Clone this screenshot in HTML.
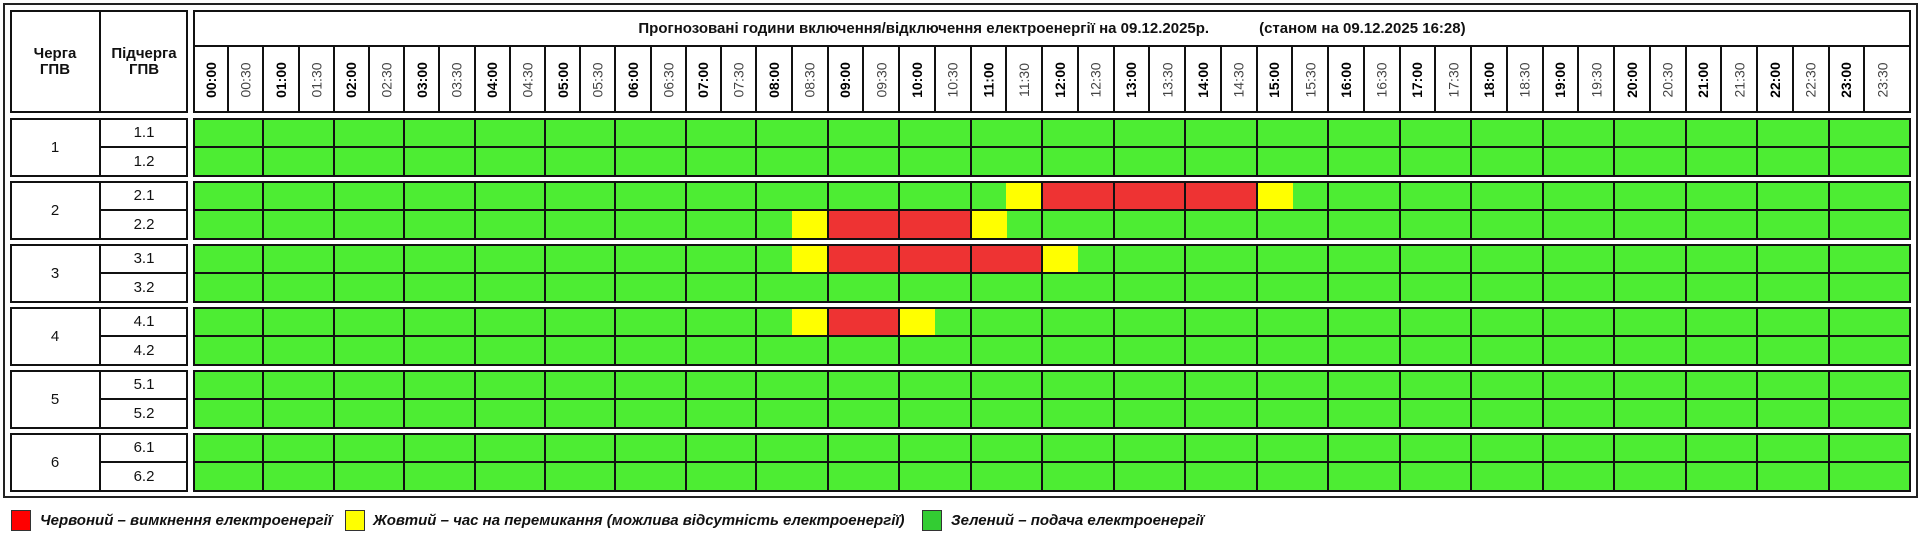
<!DOCTYPE html>
<html><head><meta charset="utf-8">
<style>
body{margin:0;width:1920px;height:542px;background:#fff;position:relative;overflow:hidden;font-family:"Liberation Sans",sans-serif}
.a{position:absolute;box-sizing:border-box}
.b{border:2px solid #111}
.lab{position:absolute;top:47px;height:65px;display:flex;align-items:center;justify-content:center}
.lab span{transform:rotate(-90deg);font-size:14px;white-space:nowrap}
.h span{font-weight:bold;color:#000}
.m span{color:#444}
.t{position:absolute;display:flex;align-items:center;justify-content:center;text-align:center;font-size:15px;color:#111}
.leg{position:absolute;top:512px;font-size:15px;font-weight:bold;font-style:italic;color:#111}
.sq{position:absolute;top:510px;width:20px;height:21px;border:1px solid #333;box-sizing:border-box}
</style></head><body>
<div class="a" style="left:3px;top:3px;width:1915px;height:495px;border:2px solid #222"></div>
<div class="a b" style="left:10px;top:10px;width:178px;height:103px"></div>
<div class="a" style="left:99px;top:10px;width:2px;height:103px;background:#111"></div>
<div class="t" style="left:10px;top:10px;width:90px;height:103px;font-weight:bold;line-height:16px">Черга<br>ГПВ</div>
<div class="t" style="left:100px;top:10px;width:88px;height:103px;font-weight:bold;line-height:16px">Підчерга<br>ГПВ</div>
<div class="a b" style="left:193px;top:10px;width:1718px;height:103px"></div>
<div class="a" style="left:193px;top:45px;width:1718px;height:2px;background:#111"></div>
<div class="t" style="left:193px;top:10px;width:1718px;height:36px;font-weight:bold;font-size:15px">Прогнозовані години включення/відключення електроенергії на 09.12.2025р.&nbsp;&nbsp;&nbsp;&nbsp;&nbsp;&nbsp;&nbsp;&nbsp;&nbsp;&nbsp;&nbsp;&nbsp;(станом на 09.12.2025 16:28)</div>
<div id="labs">
<div class="lab h"><span>00:00</span></div><div class="lab m"><span>00:30</span></div>
<div class="lab h"><span>01:00</span></div><div class="lab m"><span>01:30</span></div>
<div class="lab h"><span>02:00</span></div><div class="lab m"><span>02:30</span></div>
<div class="lab h"><span>03:00</span></div><div class="lab m"><span>03:30</span></div>
<div class="lab h"><span>04:00</span></div><div class="lab m"><span>04:30</span></div>
<div class="lab h"><span>05:00</span></div><div class="lab m"><span>05:30</span></div>
<div class="lab h"><span>06:00</span></div><div class="lab m"><span>06:30</span></div>
<div class="lab h"><span>07:00</span></div><div class="lab m"><span>07:30</span></div>
<div class="lab h"><span>08:00</span></div><div class="lab m"><span>08:30</span></div>
<div class="lab h"><span>09:00</span></div><div class="lab m"><span>09:30</span></div>
<div class="lab h"><span>10:00</span></div><div class="lab m"><span>10:30</span></div>
<div class="lab h"><span>11:00</span></div><div class="lab m"><span>11:30</span></div>
<div class="lab h"><span>12:00</span></div><div class="lab m"><span>12:30</span></div>
<div class="lab h"><span>13:00</span></div><div class="lab m"><span>13:30</span></div>
<div class="lab h"><span>14:00</span></div><div class="lab m"><span>14:30</span></div>
<div class="lab h"><span>15:00</span></div><div class="lab m"><span>15:30</span></div>
<div class="lab h"><span>16:00</span></div><div class="lab m"><span>16:30</span></div>
<div class="lab h"><span>17:00</span></div><div class="lab m"><span>17:30</span></div>
<div class="lab h"><span>18:00</span></div><div class="lab m"><span>18:30</span></div>
<div class="lab h"><span>19:00</span></div><div class="lab m"><span>19:30</span></div>
<div class="lab h"><span>20:00</span></div><div class="lab m"><span>20:30</span></div>
<div class="lab h"><span>21:00</span></div><div class="lab m"><span>21:30</span></div>
<div class="lab h"><span>22:00</span></div><div class="lab m"><span>22:30</span></div>
<div class="lab h"><span>23:00</span></div><div class="lab m"><span>23:30</span></div>
</div>
<div class="t" style="left:10px;top:118px;width:90px;height:58px">1</div>
<div class="t" style="left:100px;top:118px;width:88px;height:29px">1.1</div>
<div class="t" style="left:100px;top:147px;width:88px;height:29px">1.2</div>
<div class="t" style="left:10px;top:181px;width:90px;height:58px">2</div>
<div class="t" style="left:100px;top:181px;width:88px;height:29px">2.1</div>
<div class="t" style="left:100px;top:210px;width:88px;height:29px">2.2</div>
<div class="t" style="left:10px;top:244px;width:90px;height:58px">3</div>
<div class="t" style="left:100px;top:244px;width:88px;height:29px">3.1</div>
<div class="t" style="left:100px;top:273px;width:88px;height:29px">3.2</div>
<div class="t" style="left:10px;top:307px;width:90px;height:58px">4</div>
<div class="t" style="left:100px;top:307px;width:88px;height:29px">4.1</div>
<div class="t" style="left:100px;top:336px;width:88px;height:29px">4.2</div>
<div class="t" style="left:10px;top:370px;width:90px;height:58px">5</div>
<div class="t" style="left:100px;top:370px;width:88px;height:29px">5.1</div>
<div class="t" style="left:100px;top:399px;width:88px;height:29px">5.2</div>
<div class="t" style="left:10px;top:433px;width:90px;height:58px">6</div>
<div class="t" style="left:100px;top:433px;width:88px;height:29px">6.1</div>
<div class="t" style="left:100px;top:462px;width:88px;height:29px">6.2</div>
<div id="g"></div>
<div class="sq" style="left:11px;background:#f00"></div>
<div class="leg" style="left:40px">Червоний – вимкнення електроенергії</div>
<div class="sq" style="left:345px;background:#ff0"></div>
<div class="leg" style="left:373px">Жовтий – час на перемикання (можлива відсутність електроенергії)</div>
<div class="sq" style="left:922px;background:#3c3"></div>
<div class="leg" style="left:951px">Зелений – подача електроенергії</div>
<script>
function X(h){return h<=8?193+70.4*h:756+71.5*(h-8);}
var labs=document.querySelectorAll('#labs .lab');
for(var i=0;i<48;i++){var x0=X(i/2),x1=X((i+1)/2);var l=labs[i];l.style.left=x0+'px';l.style.width=(x1-x0)+'px';
 if(i>0){var d=document.createElement('div');d.className='a';d.style.cssText='left:'+(x0-1)+'px;top:46px;width:2px;height:66px;background:#111';document.body.appendChild(d);}}
var G='#4ded33',R='#ee3333',Y='#ffff00';
var spec={'2.1':[[23,Y],[24,R],[25,R],[26,R],[27,R],[28,R],[29,R],[30,Y]],
'2.2':[[17,Y],[18,R],[19,R],[20,R],[21,R],[22,Y]],
'3.1':[[17,Y],[18,R],[19,R],[20,R],[21,R],[22,R],[23,R],[24,Y]],
'4.1':[[17,Y],[18,R],[19,R],[20,Y]]};
var g=document.getElementById('g'),h='';
for(var q=0;q<6;q++){var yy=118+63*q;
 h+='<div class="a b" style="left:10px;top:'+yy+'px;width:178px;height:59px"></div>';
 h+='<div class="a" style="left:99px;top:'+yy+'px;width:2px;height:59px;background:#111"></div>';
 h+='<div class="a" style="left:100px;top:'+(yy+28)+'px;width:88px;height:2px;background:#111"></div>';
 h+='<div class="a" style="left:193px;top:'+yy+'px;width:1718px;height:59px;background:'+G+'"></div>';
 for(var r=0;r<2;r++){var k=(q+1)+'.'+(r+1);var s=spec[k]||[];
  s.forEach(function(c){var x0=X(c[0]/2),x1=X((c[0]+1)/2);h+='<div class="a" style="left:'+x0+'px;top:'+(yy+r*29)+'px;width:'+(x1-x0+0.5)+'px;height:30px;background:'+c[1]+'"></div>';});}
 for(var hh=1;hh<24;hh++)h+='<div class="a" style="left:'+(X(hh)-1)+'px;top:'+yy+'px;width:2px;height:59px;background:#111"></div>';
 h+='<div class="a" style="left:193px;top:'+(yy+28)+'px;width:1718px;height:2px;background:#111"></div>';
 h+='<div class="a b" style="left:193px;top:'+yy+'px;width:1718px;height:59px"></div>';
}
g.innerHTML=h;
</script>
</body></html>
